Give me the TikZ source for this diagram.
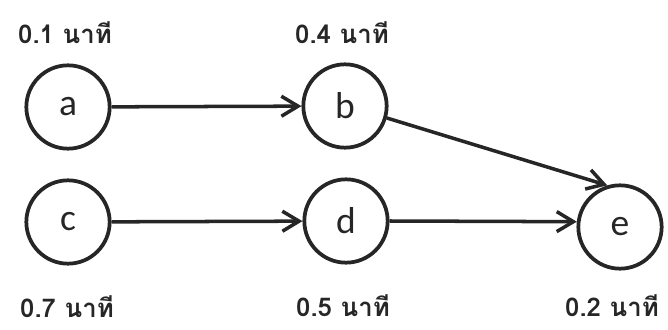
\documentclass[tikz,border=0pt]{standalone}
\usepackage{fontspec}
\setmainfont{Carlito}
\newfontfamily\thaifont[Script=Thai]{Loma}
\usetikzlibrary{arrows.meta}
\definecolor{Ink}{HTML}{262626}

\begin{document}
\begin{tikzpicture}[
    every node/.style={text=Ink},
    job/.style={circle, draw=Ink, line width=3.2pt, minimum size=2.5cm, inner sep=0pt,
        font=\fontsize{32}{34}\selectfont},
    tlabel/.style={inner sep=1pt, font=\thaifont\bfseries\fontsize{22}{26}\selectfont},
    arr/.style={-{Straight Barb[length=5mm, width=6mm, line width=3pt]}, line width=3pt, draw=Ink},
]
\useasboundingbox (0,0) rectangle (20.04,9.87);

% === Jobs ===
\node[job] (a) at (2.04, 6.66) {a};
\node[job] (b) at (10.35, 6.69) {b};
\node[job] (c) at (2.04, 3.21) {c};
\node[job] (d) at (10.38, 3.24) {d};
\node[job] (e) at (18.6, 3.06) {e};

% === Times ===
\node[tlabel] (ta) at (1.95, 8.88) {0.1 นาที};
\node[tlabel] (tb) at (10.26, 8.88) {0.4 นาที};
\node[tlabel] (tc) at (2.01, 0.68) {0.7 นาที};
\node[tlabel] (td) at (10.29, 0.7) {0.5 นาที};
\node[tlabel] (te) at (18.36, 0.7) {0.2 นาที};

% === Precedence ===
\draw[arr] (a) -- (b);
\draw[arr] (c) -- (d);
\draw[arr] (b.-16) -- (e.107);
\draw[arr] (d.east) -- (e.173);

\end{tikzpicture}
\end{document}
